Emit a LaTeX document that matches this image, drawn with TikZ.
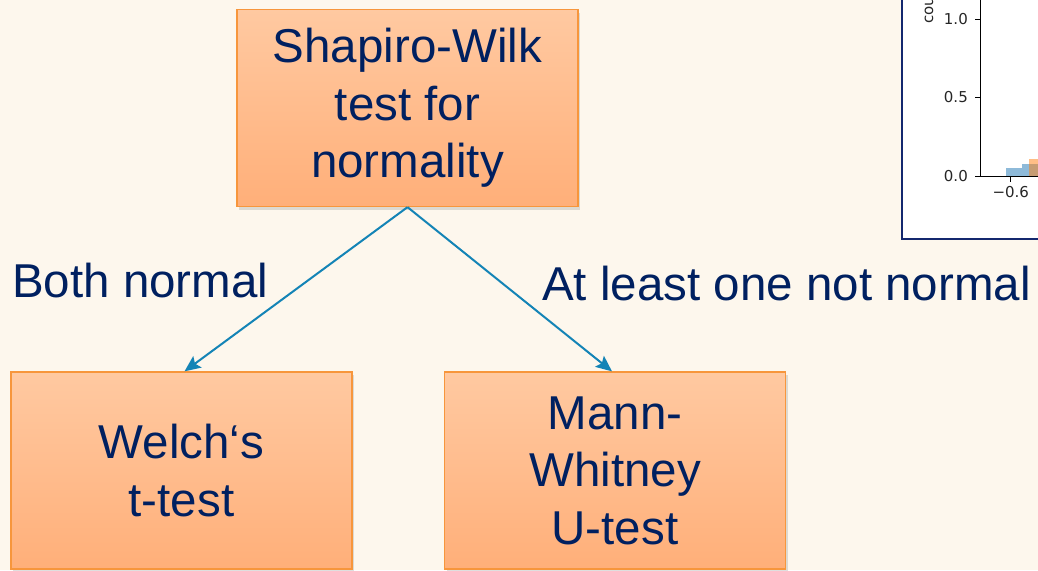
\documentclass[tikz,border=0pt]{standalone}
\usepackage{fontspec}
\setmainfont{Liberation Sans}
\newfontfamily\plotfont{DejaVu Sans}
\usetikzlibrary{positioning, shadows, arrows.meta}
\definecolor{bgcream}{RGB}{253,247,237}
\definecolor{boxtop}{RGB}{255,201,161}
\definecolor{boxbot}{RGB}{255,175,121}
\definecolor{boxline}{RGB}{247,150,60}
\definecolor{textnavy}{RGB}{0,32,96}
\definecolor{arrowblue}{RGB}{20,132,182}
\definecolor{framenavy}{RGB}{20,40,110}
\definecolor{mplblue}{RGB}{31,119,180}
\definecolor{mplorange}{RGB}{255,127,14}
\tikzstyle{testbox} = [rectangle, minimum width=341pt, minimum height=197pt, align=center, top color=boxtop, bottom color=boxbot, draw=boxline, line width=1.3pt, drop shadow={opacity=0.25, shadow xshift=2pt, shadow yshift=-3pt}, font=\fontsize{47.5}{57.5}\selectfont, text=textnavy]
\tikzstyle{branch} = [font=\fontsize{47.5}{57.5}\selectfont, text=textnavy, inner sep=0pt, anchor=base west]
\tikzstyle{arrow} = [line width=2pt, draw=arrowblue, -{Stealth[length=16pt, width=14pt, inset=3pt, fill=arrowblue]}]
\tikzstyle{ticklabel} = [font=\plotfont\fontsize{15}{15}\selectfont, text=black!85, inner sep=0pt]

\begin{document}
\begin{tikzpicture}[x=1pt, y=-1pt, node distance=362.5pt]
			\useasboundingbox (0,0) rectangle (1038,570);
			\fill [bgcream] (0,0) rectangle (1038,570);
			%cut-off histogram in the corner
			\begin{scope}
				\clip (0,0) rectangle (1038,570);
				\draw [framenavy, line width=2pt, fill=white] (902,-10) rectangle (1050,239);
				\fill [mplblue, opacity=0.5] (1005.7,176) rectangle (1022.3,168.3);
				\fill [mplblue, opacity=0.5] (1022.3,176) rectangle (1050,164.3);
				\fill [mplorange, opacity=0.5] (1029.3,176) rectangle (1050,159.3);
				\draw [black, line width=0.9pt] (980.7,-10) -- (980.7,176) -- (1050,176);
				\foreach \yv/\lab in {19/1.0, 97.5/0.5, 176/0.0} {
					\draw [black, line width=0.9pt] (975,\yv) -- (980.7,\yv);
					\node [ticklabel, anchor=east] at (968,\yv) {\lab};
				}
				\draw [black, line width=0.9pt] (1010.7,176) -- (1010.7,182);
				\node (xtick) [ticklabel, anchor=north] at (1010.7,186) {−0.6};
				\node (ylab) [ticklabel, rotate=90, anchor=west] at (928,24) {count};
			\end{scope}
			%boxes
			\node (shapiro) [testbox] at (407.5,108) {Shapiro-Wilk\\test for\\normality};
			\node (welch) [testbox, below of=shapiro, xshift=-226pt] {Welch‘s\\t-test};
			\node (mann) [testbox, below of=shapiro, xshift=207.5pt] {Mann-\\Whitney\\U-test};
			%branch labels
			\node (both) [branch] at (12,297) {Both normal};
			\node (notnorm) [branch] at (542,300) {At least one not normal};
			%arrows
			\draw [arrow] (shapiro.south) -- ([xshift=3pt]welch.north);
			\draw [arrow] (shapiro.south) -- ([xshift=-3pt]mann.north);
		\end{tikzpicture}
\end{document}
